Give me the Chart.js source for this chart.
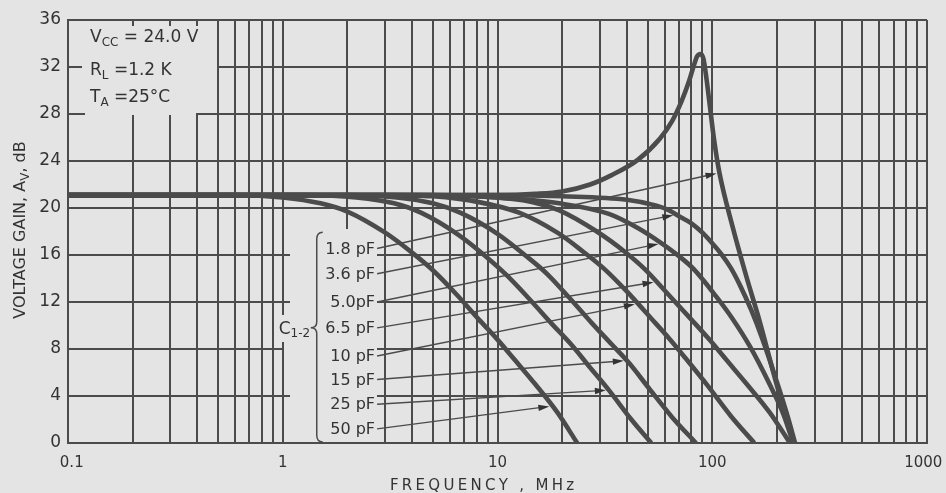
<!DOCTYPE html>
<html>
<head>
<meta charset="utf-8">
<title>Voltage gain vs frequency</title>
<script src="https://cdn.jsdelivr.net/npm/chart.js"></script>
<style>
  html, body { margin: 0; padding: 0; background: #e4e4e4; }
  canvas { display: block; }
</style>
</head>
<body>
<canvas id="gain" width="946" height="493"></canvas>
<script>
// --- curves: [frequency MHz, gain dB], one per C1-2 value ---
const gain1p8 = [[0.1, 21.1], [10, 21.1], [15, 21.2], [20, 21.4], [27, 22.0], [34, 22.8], [45, 24.1], [57, 25.9], [65, 27.4], [72, 29.1], [78, 30.8], [82, 32.1], [85, 32.9], [88, 33.1], [91, 32.7], [94, 31.0], [97, 29.0], [102, 25.8], [108, 23.0], [124, 18.5], [144, 14.2], [166, 10.4], [200, 4.9], [240, 0]];
const gain3p6 = [[0.1, 21.1], [10, 21.1], [20, 21.0], [40, 20.7], [55, 20.2], [63, 19.8], [70, 19.3], [80, 18.7], [90, 17.9], [100, 17.0], [110, 16.1], [122, 14.9], [134, 13.5], [152, 11.3], [170, 9.0], [200, 5.2], [225, 2.2], [243, 0]];
const gain5p0 = [[0.1, 21.1], [5, 21.1], [10, 20.9], [19.4, 20.4], [33, 19.5], [45, 18.3], [57, 17.1], [70, 15.9], [82, 14.8], [104, 12.5], [124, 10.6], [150, 8.2], [185, 5.0], [215, 2.4], [238, 0]];
const gain6p5 = [[0.1, 21.1], [4, 21.1], [7.8, 21.0], [14.6, 20.5], [19.4, 19.8], [29, 18.0], [39, 16.3], [48.5, 14.8], [62, 12.7], [80, 10.5], [97, 8.8], [116, 7.1], [145, 5.0], [185, 2.6], [230, 0]];
const gain10 = [[0.1, 21.1], [3, 21.1], [5, 21.0], [8.2, 20.5], [12.6, 19.6], [19, 17.9], [25, 16.3], [31.5, 14.8], [40, 12.9], [52, 10.6], [63, 8.9], [76, 7.1], [95, 4.9], [122, 2.3], [157, 0]];
const gain15 = [[0.1, 21.1], [2, 21.1], [3.4, 20.9], [5, 20.4], [6.7, 19.6], [10, 17.8], [13.4, 16.0], [17, 14.4], [21.5, 12.4], [27.5, 10.2], [34, 8.4], [41, 6.8], [51, 4.6], [65, 2.2], [84, 0]];
const gain25 = [[0.1, 21.1], [1.3, 21.1], [2.2, 20.9], [3.3, 20.4], [4.4, 19.6], [6.6, 17.7], [8.8, 15.9], [11, 14.3], [14, 12.3], [18, 10.1], [22, 8.4], [26.5, 6.6], [33, 4.5], [42, 2.0], [52, 0]];
const gain50 = [[0.1, 21.1], [0.6, 21.1], [1, 20.9], [1.5, 20.4], [2, 19.7], [3, 17.9], [4, 16.2], [5, 14.7], [6.4, 12.7], [8.2, 10.5], [10, 8.8], [12, 7.1], [15, 5.0], [19, 2.6], [23.5, 0]];

const curves = [gain1p8, gain3p6, gain5p0, gain6p5, gain10, gain15, gain25, gain50];
const capLabels = ['1.8 pF', '3.6 pF', '5.0pF', '6.5 pF', '10 pF', '15 pF', '25 pF', '50 pF'];
const labelGain = [16.55, 14.4, 12.0, 9.8, 7.4, 5.4, 3.3, 1.2];   // where each label sits (dB)
const arrowFreq = [108, 68, 58, 55, 45, 40, 33, 18];              // where each leader meets its curve (MHz)

// axes
const decades = [0.1, 1, 10, 100];
const mantissas = [1, 2, 3, 4, 5, 6, 7, 8, 9];
const xTicks = decades.flatMap(d => mantissas.map(m => +(d * m).toPrecision(3))).concat([1000]);
const xLabels = [0.1, 1, 10, 100, 1000];

const PAPER = '#e4e4e4';
const INK = '#4b4b4b';
const TEXT = '#333333';
const FONT = '"DejaVu Sans", Verdana, sans-serif';
const LABEL_F = 2.72;   // right end of the capacitor labels (MHz)

function gainAt(pts, f) {
  const lf = Math.log10(f);
  for (let i = 1; i < pts.length; i++) {
    const [f0, g0] = pts[i - 1], [f1, g1] = pts[i];
    if (f <= f1) {
      const t = (lf - Math.log10(f0)) / (Math.log10(f1) - Math.log10(f0));
      return g0 + t * (g1 - g0);
    }
  }
  return pts[pts.length - 1][1];
}

// x labels: nudge the two end labels inward so they sit inside the frame
function xLabel(v) {
  if (!xLabels.includes(v)) return '';
  if (v === 0.1) return '\u2002' + v;
  if (v === 1000) return v + '\u2002';
  return String(v);
}

function drawRuns(ctx, x, y, runs) {
  let cx = x;
  for (const r of runs) {
    ctx.font = `${r.size}px ${FONT}`;
    ctx.fillText(r.text, cx, y + (r.dy || 0));
    cx += ctx.measureText(r.text).width;
  }
  return cx - x;
}

function runsWidth(ctx, runs) {
  let w = 0;
  for (const r of runs) { ctx.font = `${r.size}px ${FONT}`; w += ctx.measureText(r.text).width; }
  return w;
}

function seg(ctx, x0, y0, x1, y1) {
  ctx.beginPath(); ctx.moveTo(x0, y0); ctx.lineTo(x1, y1); ctx.stroke();
}

const paper = {
  id: 'paper',
  beforeDraw(chart) {
    const { ctx, width, height } = chart;
    ctx.save();
    ctx.fillStyle = PAPER;
    ctx.fillRect(0, 0, width, height);
    ctx.restore();
  }
};

// the printed grid has blank areas for the notes and the capacitor labels
const gridGaps = {
  id: 'gridGaps',
  beforeDatasetsDraw(chart) {
    const { ctx, scales: { x, y } } = chart;
    const X = v => Math.round(x.getPixelForValue(v));
    const Y = v => Math.round(y.getPixelForValue(v));
    ctx.save();
    ctx.fillStyle = PAPER;
    // test conditions box
    ctx.fillRect(X(0.1) + 1, Y(36) + 1, X(0.4) - X(0.1), Y(28) - Y(36));
    ctx.fillRect(X(0.4) - 1, Y(36) + 1, X(0.5) - X(0.4), Y(28) - Y(36) - 2);
    // capacitor label column
    ctx.fillRect(X(1) + 1, Y(18.2), X(LABEL_F) - X(1), Y(0) - Y(18.2) - 1);
    // behind "C1-2"
    ctx.fillRect(X(1) - 5, Y(9.8) - 13, 12, 27);

    ctx.strokeStyle = INK;
    ctx.lineWidth = 2;
    ctx.lineCap = 'butt';
    ctx.beginPath();
    ctx.moveTo(X(0.4), Y(24));
    ctx.lineTo(X(0.4), Y(28));
    ctx.lineTo(X(0.5), Y(28));
    ctx.stroke();
    seg(ctx, X(0.1), Y(32), X(0.1) + 14, Y(32));
    seg(ctx, X(0.1), Y(28), X(0.1) + 17, Y(28));
    for (const v of [0.2, 0.3, 0.4]) seg(ctx, X(v), Y(36), X(v), Y(36) + 6);
    for (const v of [16, 12, 4]) seg(ctx, X(1), Y(v), X(1) + 7, Y(v));
    ctx.restore();
  }
};

const notes = {
  id: 'notes',
  afterDatasetsDraw(chart) {
    const { ctx, chartArea: area, scales: { x, y } } = chart;
    const X = v => x.getPixelForValue(v);
    const Y = v => y.getPixelForValue(v);
    ctx.save();
    ctx.fillStyle = TEXT;
    ctx.strokeStyle = INK;

    // leaders with arrowheads
    ctx.lineWidth = 1.4;
    curves.forEach((pts, i) => {
      const x0 = X(LABEL_F) + 1, y0 = Y(labelGain[i]);
      let x1 = X(arrowFreq[i]), y1 = Y(gainAt(pts, arrowFreq[i]));
      const a = Math.atan2(y1 - y0, x1 - x0);
      x1 -= 3 * Math.cos(a); y1 -= 3 * Math.sin(a);
      seg(ctx, x0, y0, x1 - 6 * Math.cos(a), y1 - 6 * Math.sin(a));
      ctx.beginPath();
      ctx.moveTo(x1, y1);
      ctx.lineTo(x1 - 11 * Math.cos(a) + 3.2 * Math.sin(a), y1 - 11 * Math.sin(a) - 3.2 * Math.cos(a));
      ctx.lineTo(x1 - 11 * Math.cos(a) - 3.2 * Math.sin(a), y1 - 11 * Math.sin(a) + 3.2 * Math.cos(a));
      ctx.closePath();
      ctx.fill();
    });

    // capacitor labels
    ctx.font = `16px ${FONT}`;
    ctx.textAlign = 'right';
    ctx.textBaseline = 'middle';
    capLabels.forEach((t, i) => ctx.fillText(t, X(LABEL_F) - 1, Y(labelGain[i]) + 1));

    // brace and C1-2
    const bx = X(1) + 34, bt = Y(18.2) + 3, bb = Y(0) - 1, bm = Y(9.8);
    ctx.lineWidth = 1.5;
    ctx.beginPath();
    ctx.moveTo(bx + 6, bt);
    ctx.quadraticCurveTo(bx, bt, bx, bt + 7);
    ctx.lineTo(bx, bm - 6);
    ctx.quadraticCurveTo(bx, bm, bx - 6, bm);
    ctx.quadraticCurveTo(bx, bm, bx, bm + 6);
    ctx.lineTo(bx, bb - 7);
    ctx.quadraticCurveTo(bx, bb, bx + 6, bb);
    ctx.stroke();
    ctx.textAlign = 'left';
    ctx.textBaseline = 'alphabetic';
    drawRuns(ctx, X(1) - 4, bm + 6, [{ text: 'C', size: 17 }, { text: '1-2', size: 12, dy: 3 }]);

    // test conditions
    const lx = area.left + 22;
    drawRuns(ctx, lx, area.top + 22, [{ text: 'V', size: 17 }, { text: 'CC', size: 12, dy: 4 }, { text: ' = 24.0 V', size: 17 }]);
    drawRuns(ctx, lx, area.top + 55, [{ text: 'R', size: 17 }, { text: 'L', size: 12, dy: 4 }, { text: ' =1.2 K', size: 17 }]);
    drawRuns(ctx, lx, area.top + 82, [{ text: 'T', size: 17 }, { text: 'A', size: 12, dy: 4 }, { text: ' =25°C', size: 17 }]);

    // y title
    const yRuns = [{ text: 'VOLTAGE GAIN, A', size: 16 }, { text: 'V', size: 12, dy: 4 }, { text: ', dB', size: 16 }];
    ctx.save();
    ctx.translate(25, 230);
    ctx.rotate(-Math.PI / 2);
    drawRuns(ctx, -runsWidth(ctx, yRuns) / 2, 0, yRuns);
    ctx.restore();

    // x title, lettered wide
    const title = 'FREQUENCY , MHz';
    ctx.font = `15px ${FONT}`;
    const gap = 3.3;
    let w = 0;
    for (const ch of title) w += ctx.measureText(ch).width + gap;
    let cx = 482 - (w - gap) / 2;
    for (const ch of title) { ctx.fillText(ch, cx, 490); cx += ctx.measureText(ch).width + gap; }

    ctx.restore();
  }
};

new Chart(document.getElementById('gain'), {
  type: 'line',
  data: {
    datasets: curves.map(pts => ({
      data: pts.map(([f, g]) => ({ x: f, y: g })),
      borderColor: INK,
      borderWidth: 4.6,
      pointRadius: 0,
      fill: false,
      cubicInterpolationMode: 'monotone'
    }))
  },
  options: {
    responsive: false,
    animation: false,
    events: [],
    layout: { padding: { top: 20, right: 19, left: 0, bottom: 0 } },
    plugins: { legend: { display: false }, tooltip: { enabled: false } },
    scales: {
      x: {
        type: 'logarithmic',
        min: 0.1,
        max: 1000,
        afterBuildTicks: s => { s.ticks = xTicks.map(v => ({ value: v })); },
        afterFit: s => { s.height = 50; s.paddingLeft = 0; s.paddingRight = 0; },
        ticks: {
          autoSkip: false,
          maxRotation: 0,
          padding: 11,
          color: TEXT,
          font: { family: FONT, size: 15 },
          callback: xLabel
        },
        grid: { color: INK, lineWidth: 2, drawTicks: false },
        border: { color: INK, width: 2 }
      },
      y: {
        min: 0,
        max: 36,
        afterFit: s => { s.width = 68; s.paddingTop = 0; s.paddingBottom = 0; },
        ticks: { stepSize: 4, padding: 7, color: TEXT, font: { family: FONT, size: 17 } },
        grid: { color: INK, lineWidth: 2, drawTicks: false },
        border: { color: INK, width: 2 }
      }
    }
  },
  plugins: [paper, gridGaps, notes]
});
</script>
</body>
</html>
